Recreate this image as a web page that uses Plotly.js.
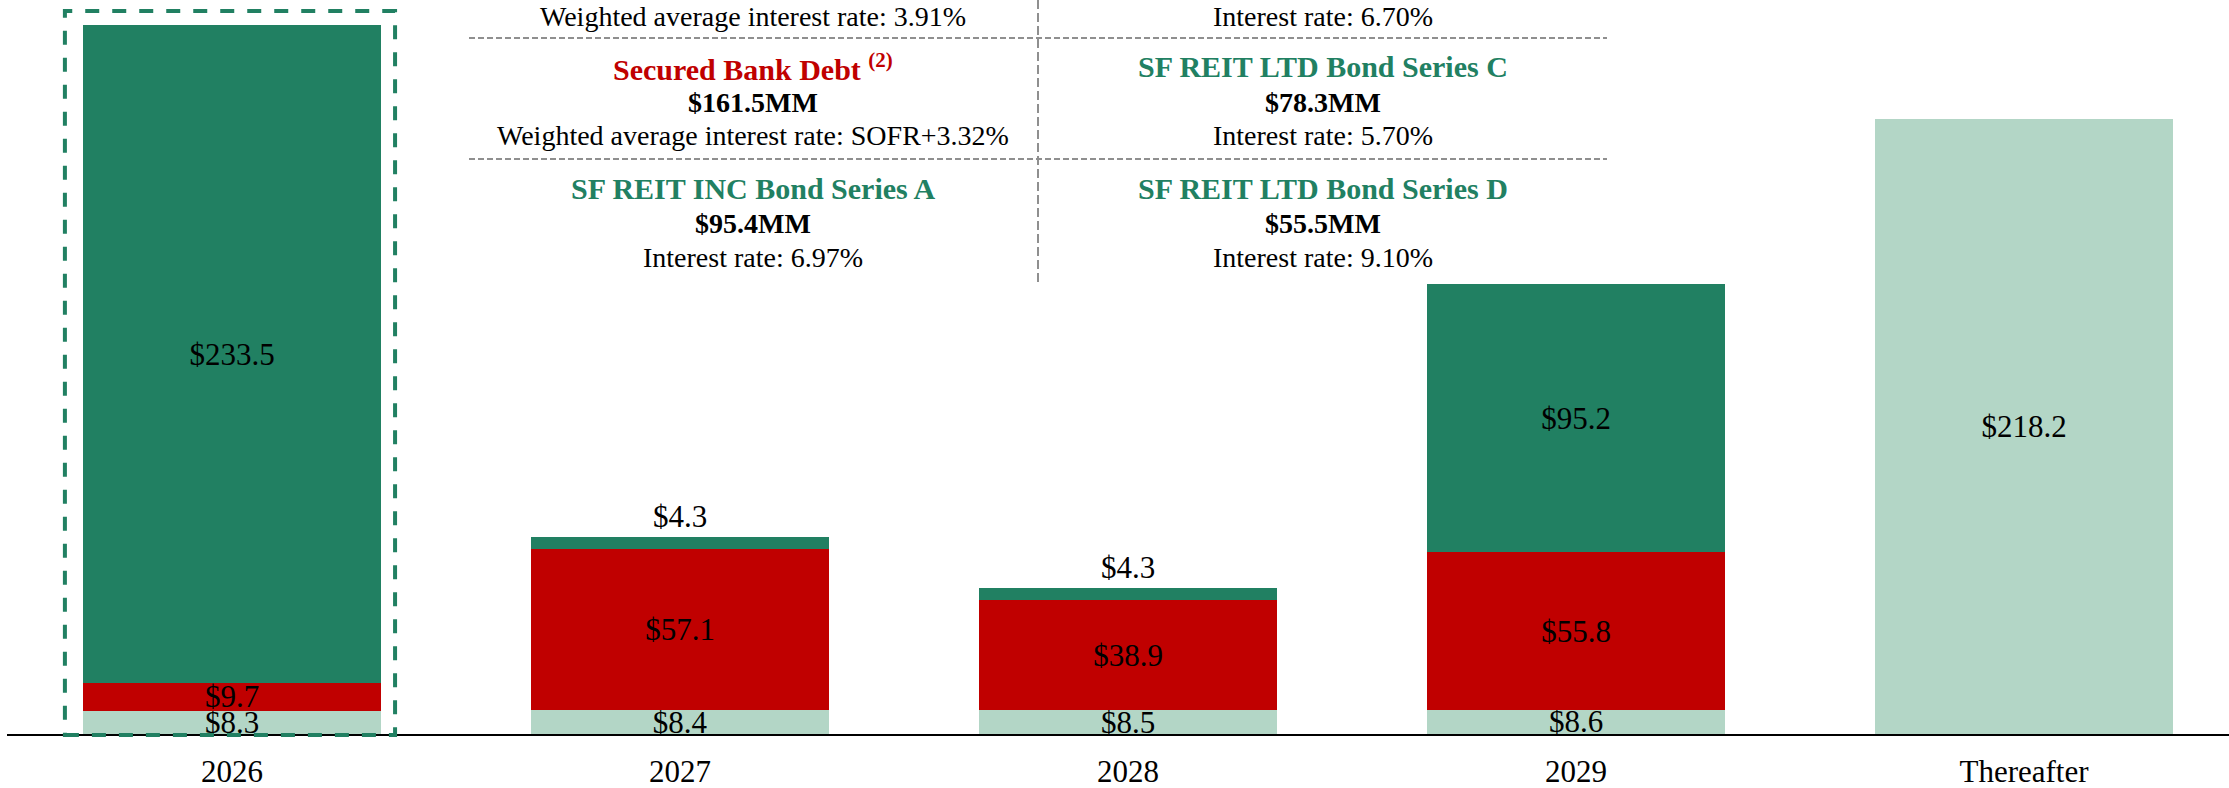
<!DOCTYPE html>
<html>
<head>
<meta charset="utf-8">
<script src="https://cdn.plot.ly/plotly-3.0.1.min.js"></script>
<style>html,body{margin:0;padding:0;background:#fff}#chart{width:2229px;height:788px}</style>
</head>
<body>
<div id="chart"></div>
<script>
// ---- data ----
const categories = ['2026', '2027', '2028', '2029', 'Thereafter'];
const lightValues = [8.3, 8.4, 8.5, 8.6, 218.2];
const redValues = [9.7, 57.1, 38.9, 55.8, null];
const greenValues = [233.5, 4.3, 4.3, 95.2, null];
const greenLabelPos = ['inside', 'outside', 'outside', 'inside', 'none'];

const leftLines = [
  'Weighted average interest rate: 3.91%',
  'Secured Bank Debt <sup>(2)</sup>',
  '$161.5MM',
  'Weighted average interest rate: SOFR+3.32%',
  'SF REIT INC Bond Series A',
  '$95.4MM',
  'Interest rate: 6.97%'
];
const rightLines = [
  'Interest rate: 6.70%',
  'SF REIT LTD Bond Series C',
  '$78.3MM',
  'Interest rate: 5.70%',
  'SF REIT LTD Bond Series D',
  '$55.5MM',
  'Interest rate: 9.10%'
];
const leftStyles = ['plain', 'red', 'bold', 'plain', 'green', 'bold', 'plain'];
const rightStyles = ['plain', 'green', 'bold', 'plain', 'green', 'bold', 'plain'];

// ---- styles ----
const FONT = 'Liberation Serif, Times New Roman, serif';
const GREEN = '#218062';
const RED = '#C00000';
const LIGHT = '#B3D6C6';
const W = 2229, H = 788, ML = 7, MB = 54, MT = 0;
const plotW = W - ML, plotH = H - MB - MT;
const px2xp = p => (p - ML) / plotW;           // pixel x -> paper
const px2yp = p => (H - MB - p) / plotH;       // pixel y -> paper

const fmt = arr => arr.map(v => v == null ? '' : '$' + v.toFixed(1));

function barTrace(vals, color, pos) {
  return {
    type: 'bar', x: categories, y: vals,
    marker: {color: color, line: {width: 0}},
    text: fmt(vals), textposition: pos,
    insidetextanchor: 'middle', constraintext: 'none', cliponaxis: false,
    textfont: {family: FONT, size: 31, color: '#000'},
    outsidetextfont: {family: FONT, size: 31, color: '#000'},
    insidetextfont: {family: FONT, size: 31, color: '#000'},
    hoverinfo: 'x+y'
  };
}

const traces = [
  barTrace(lightValues, LIGHT, 'inside'),
  barTrace(redValues, RED, 'inside'),
  barTrace(greenValues, GREEN, greenLabelPos)
];

const lineY = [0, 67, 102, 135, 188, 223, 257];
const annotations = [];
function addCol(lines, styles, cx) {
  lines.forEach((t, i) => {
    const s = styles[i];
    let text = t, color = '#000', size = 28;
    if (s !== 'plain') text = '<b>' + t + '</b>';
    if (s === 'red') { color = RED; size = 30; }
    if (s === 'green') { color = GREEN; size = 30; }
    annotations.push({
      xref: 'paper', yref: 'paper', x: px2xp(cx), y: px2yp(lineY[i]),
      xanchor: 'center', yanchor: i === 0 ? 'top' : 'middle', borderpad: 0,
      showarrow: false,
      text: text, font: {family: FONT, size: size, color: color}
    });
  });
}
addCol(leftLines, leftStyles, 753);
addCol(rightLines, rightStyles, 1323);

const grey = {color: '#8f8f8f', width: 2, dash: '6px,3px'};
const shapes = [
  {type: 'line', xref: 'paper', yref: 'paper', x0: px2xp(469), x1: px2xp(1607), y0: px2yp(38), y1: px2yp(38), line: grey},
  {type: 'line', xref: 'paper', yref: 'paper', x0: px2xp(469), x1: px2xp(1607), y0: px2yp(159), y1: px2yp(159), line: grey},
  {type: 'line', xref: 'paper', yref: 'paper', x0: px2xp(1038), x1: px2xp(1038), y0: px2yp(0), y1: px2yp(282), line: {color: '#8f8f8f', width: 2, dash: '9px,4px'}},
  {type: 'rect', xref: 'x', yref: 'paper', x0: -0.373, x1: 0.364, y0: px2yp(735), y1: px2yp(11),
   line: {color: GREEN, width: 4, dash: '14px,13px'}, fillcolor: 'rgba(0,0,0,0)', layer: 'above'}
];

const layout = {
  width: W, height: H,
  margin: {l: ML, r: 0, t: MT, b: MB, pad: 0},
  paper_bgcolor: '#fff', plot_bgcolor: '#fff',
  barmode: 'stack', bargap: 0.335,
  showlegend: false,
  xaxis: {
    type: 'category', range: [(ML - 232) / 448, (W - 232) / 448],
    showline: true, linecolor: '#000', linewidth: 2,
    ticks: '', showgrid: false, zeroline: false,
    tickfont: {family: FONT, size: 31, color: '#000'},
    ticklabelstandoff: 9
  },
  yaxis: {range: [0, plotH / 2.82], visible: false, showgrid: false, zeroline: false},
  annotations: annotations,
  shapes: shapes,
  font: {family: FONT}
};

Plotly.newPlot('chart', traces, layout, {displayModeBar: false, staticPlot: true});
</script>
</body>
</html>
